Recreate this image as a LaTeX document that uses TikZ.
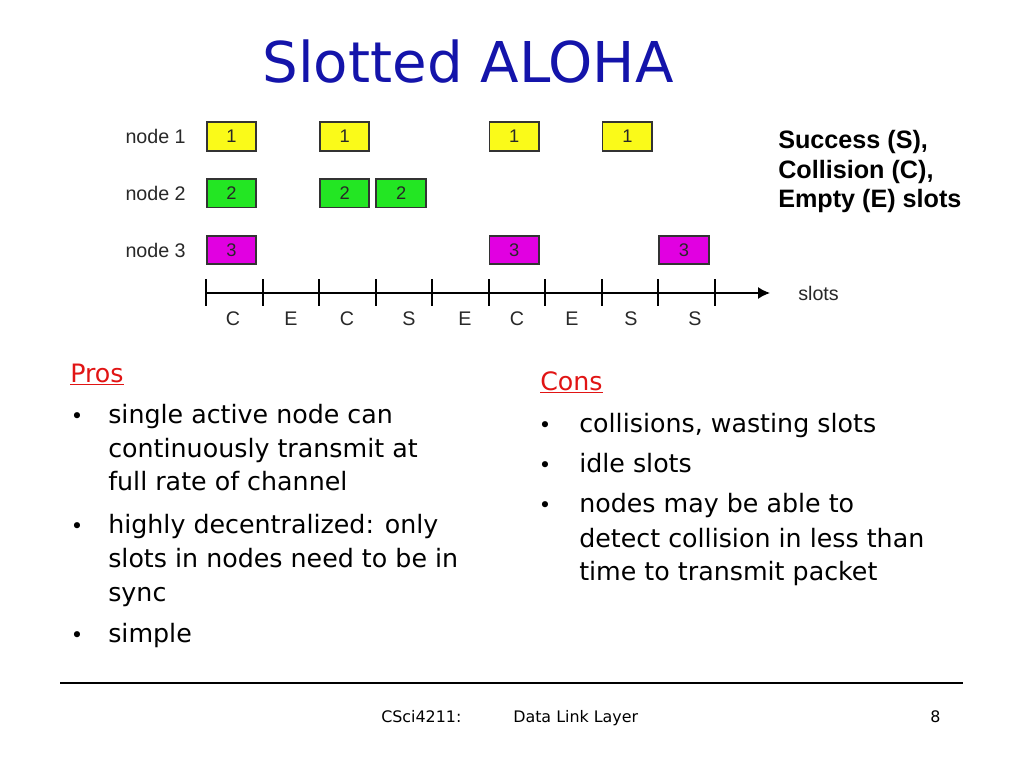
\documentclass[tikz,border=0pt]{standalone}
\usepackage{fontspec}
\setmainfont{DejaVu Sans}
\newfontfamily\diagfont{Liberation Sans}
\definecolor{titleblue}{RGB}{20,20,170}
\definecolor{prosred}{RGB}{225,20,20}
\definecolor{pktyellow}{RGB}{250,250,25}
\definecolor{pktgreen}{RGB}{35,230,35}
\definecolor{pktmagenta}{RGB}{225,0,225}
\definecolor{labelgray}{RGB}{40,40,40}
\usetikzlibrary{arrows.meta,positioning}
\tikzset{
  pkt/.style={rectangle, inner sep=0pt, minimum width=1.24cm, minimum height=0.71cm,
              draw=black!80, line width=1.3pt, fill=#1, font=\diagfont\fontsize{13}{13}\selectfont,
              text=labelgray},
  rowlabel/.style={anchor=east, inner sep=0pt, font=\diagfont\fontsize{14}{14}\selectfont, text=labelgray},
  slotmark/.style={anchor=base, inner sep=0pt, font=\diagfont\fontsize{14}{14}\selectfont, text=labelgray},
  bodytext/.style={anchor=base west, inner sep=0pt, font=\fontsize{18}{22}\selectfont},
  bulletdot/.style={anchor=base, inner sep=0pt, font=\fontsize{15}{15}\selectfont},
  headtext/.style={anchor=base west, inner sep=0pt, font=\fontsize{18}{22}\selectfont, text=prosred},
  legendtext/.style={anchor=base west, inner sep=0pt, font=\diagfont\bfseries\fontsize{17.9}{20}\selectfont},
  foottext/.style={anchor=base west, inner sep=0pt, font=\fontsize{11.3}{12}\selectfont},
}

\begin{document}
\begin{tikzpicture}[x=0.025cm, y=-0.025cm]
  \useasboundingbox[fill=white] (0,0) rectangle (1024,768);
  % Title
  \node[anchor=base, inner sep=0pt, font=\fontsize{40}{44}\selectfont, text=titleblue]
    (title) at (468,83) {Slotted ALOHA};
  % Node rows
  \foreach \row in {1,2,3}{
    \pgfmathsetmacro\yy{79.75+56.75*\row}
    \node[rowlabel] (lbl\row) at (186,\yy) {node \row};
  }
  % Packets (row/slot/colour)
  \foreach \row/\k/\col in {1/1/pktyellow, 1/3/pktyellow, 1/6/pktyellow, 1/8/pktyellow,
                            2/1/pktgreen, 2/3/pktgreen, 2/4/pktgreen,
                            3/1/pktmagenta, 3/6/pktmagenta, 3/9/pktmagenta}{
    \pgfmathsetmacro\yy{79.75+56.75*\row}
    \pgfmathsetmacro\xx{206+(\k-1)*56.55+25.5}
    \node[pkt=\col] (p\row-\k) at (\xx,\yy) {\row};
  }
  % Time axis
  \coordinate (axstart) at (206,293);
  \coordinate (axend) at (770,293);
  \draw[line width=1.1pt, -{Latex[length=0.3cm, width=0.3cm]}] (axstart) -- (axend);
  \foreach \i in {0,...,9}{
    \draw[line width=1.4pt] (206+\i*56.55,279) -- (206+\i*56.55,306);
  }
  \node[anchor=west, inner sep=0pt, font=\diagfont\fontsize{14}{14}\selectfont, text=labelgray]
    (slots) at (798,293) {slots};
  % Slot outcomes
  \foreach \x/\s [count=\n] in {233/C, 291/E, 347/C, 409/S, 465/E, 517/C, 572/E, 631/S, 695/S}{
    \node[slotmark] (o\n) at (\x,325) {\s};
  }
  % Legend
  \node[legendtext] (leg1) at (778,149) {Success (S),};
  \node[legendtext] (leg2) at (778,178) {Collision (C),};
  \node[legendtext] (leg3) at (778,207) {Empty (E) slots};
  % Pros
  \node[headtext] (pros) at (70,382) {\underline{Pros}};
  \foreach \yy in {423,533,642}{
    \node[bulletdot] at (77,\yy) {\textbullet};
  }
  \foreach \yy/\txt [count=\n] in {423/single active node can, 457/continuously transmit at,
      490/full rate of channel, 533/highly decentralized: only,
      567/slots in nodes need to be in, 601/sync, 642/simple}{
    \node[bodytext] (pro\n) at (108,\yy) {\txt};
  }
  % Cons
  \node[headtext] (cons) at (540,390) {\underline{Cons}};
  \foreach \yy in {432,472,512}{
    \node[bulletdot] at (545,\yy) {\textbullet};
  }
  \foreach \yy/\txt [count=\n] in {432/{collisions, wasting slots}, 472/idle slots,
      512/nodes may be able to, 547/detect collision in less than,
      580/time to transmit packet}{
    \node[bodytext] (con\n) at (579,\yy) {\txt};
  }
  % Footer
  \coordinate (footL) at (60,683);
  \coordinate (footR) at (963,683);
  \draw[line width=1pt] (footL) -- (footR);
  \node[foottext] (course) at (381,722) {CSci4211:};
  \node[foottext] (topic) at (513,722) {Data Link Layer};
  \node[foottext] (page) at (930,722) {8};
\end{tikzpicture}
\end{document}
